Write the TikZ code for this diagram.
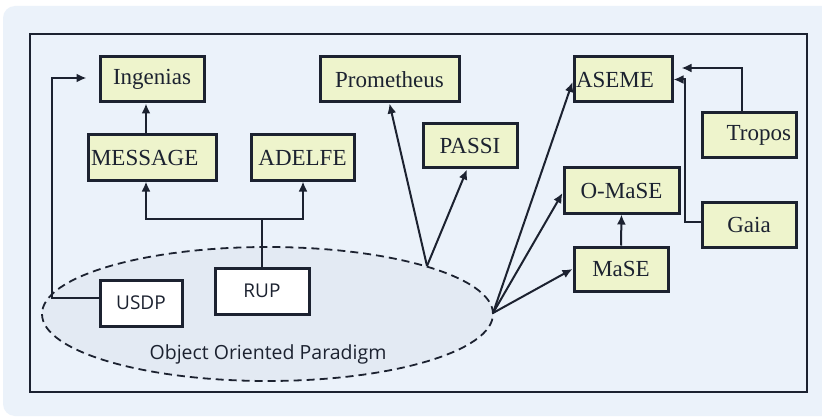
\documentclass[tikz,border=0pt]{standalone}
\usepackage{fontspec}
\setmainfont{Liberation Serif}
\newfontfamily\handfont{Open Sans}
\usetikzlibrary{arrows.meta,shapes.geometric}
\definecolor{panel}{HTML}{EBF2FA}
\definecolor{boxfill}{HTML}{EEF4CC}
\definecolor{ovalfill}{HTML}{E3EAF3}
\definecolor{ink}{HTML}{1C2230}
\begin{document}
\begin{tikzpicture}[x=1pt,y=-1pt,
  method/.style={draw=ink, line width=3pt, fill=boxfill, text=ink,
    font=\fontsize{23}{26}\selectfont, inner sep=0pt},
  umlbox/.style={draw=ink, line width=3pt, fill=white, text=ink,
    font=\handfont\fontsize{19}{22}\selectfont, inner sep=0pt},
  link/.style={draw=ink, line width=2pt},
  arr/.style={link, -{Latex[length=10pt,width=9pt]}}]
\useasboundingbox (0,0) rectangle (822,417);
% panel and frame
\fill[white] (0,0) rectangle (822,417);
\fill[panel, rounded corners=12pt] (3,6) rectangle (834,416);
\draw[ink, line width=2.8pt] (30,34) rectangle (807,392);

% paradigm oval
\node[ellipse, draw=ink, fill=ovalfill, line width=1.8pt, dash pattern=on 8pt off 5pt,
      minimum width=451pt, minimum height=134pt, inner sep=0pt] (oop) at (267.5,314) {};
\node[text=ink, font=\handfont\fontsize{19.5}{22}\selectfont] (ooplabel) at (268,354) {Object Oriented Paradigm};

% methodologies
\node[method, minimum width=104pt, minimum height=45pt] (ing) at (152,79.5) {Ingenias};
\node[method, minimum width=128pt, minimum height=45pt, text width=122pt, align=left] (msg) at (152,157.5) {MESSAGE};
\node[method, minimum width=103pt, minimum height=45pt] (adelfe) at (302.5,157.5) {ADELFE};
\node[method, minimum width=139pt, minimum height=45pt] (prom) at (389.5,79.5) {Prometheus};
\node[method, minimum width=94pt, minimum height=44pt] (passi) at (470,146) {PASSI};
\node[method, minimum width=98pt, minimum height=45pt, text width=94pt, align=left] (aseme) at (623,79.5) {ASEME};
\node[method, minimum width=94pt, minimum height=45pt, text width=84pt, align=right] (tropos) at (749,135.5) {Tropos};
\node[method, minimum width=115pt, minimum height=45pt] (omase) at (621.5,190.5) {O-MaSE};
\node[method, minimum width=94pt, minimum height=45pt] (gaia) at (749,224.5) {Gaia};
\node[method, minimum width=94pt, minimum height=44pt] (mase) at (621,269) {MaSE};

% object oriented processes
\node[umlbox, minimum width=82pt, minimum height=46pt] (usdp) at (141,303) {USDP};
\node[umlbox, minimum width=94pt, minimum height=46pt] (rup) at (262,291) {RUP};

% branching points on the oval
\coordinate (fanA) at (427,266);
\coordinate (fanB) at (493,313);

% connectors
\draw[arr] ([xshift=-6pt]msg.north) -- ([xshift=-6pt]ing.south);
\draw[link] (rup.north) -- ++(0,48pt) coordinate (split);
\draw[arr] (split) -| ([xshift=-6pt]msg.south);
\draw[arr] (split) -| ([xshift=0.5pt]adelfe.south);
\draw[arr] ([yshift=5pt]usdp.west) -- ++(-47pt,0) |- ([xshift=-12pt,yshift=1.5pt]ing.west);

\draw[arr] (fanA) -- (prom.south);
\draw[arr] (fanA) -- ([xshift=-3pt]passi.south);
\draw[arr] (fanB) -- ([yshift=-2.5pt]aseme.west);
\draw[arr] (fanB) -- ([yshift=-2.5pt]omase.west);
\draw[arr] (fanB) -- (mase.west);

\draw[arr] (mase.north) -- (omase.south);
\draw[arr] ([xshift=-7pt]tropos.north) |- ([xshift=8pt,yshift=11.5pt]aseme.east);
\draw[arr] ([yshift=2.5pt]gaia.west) -- ++(-16pt,0) |- (aseme.east);
\end{tikzpicture}
\end{document}
